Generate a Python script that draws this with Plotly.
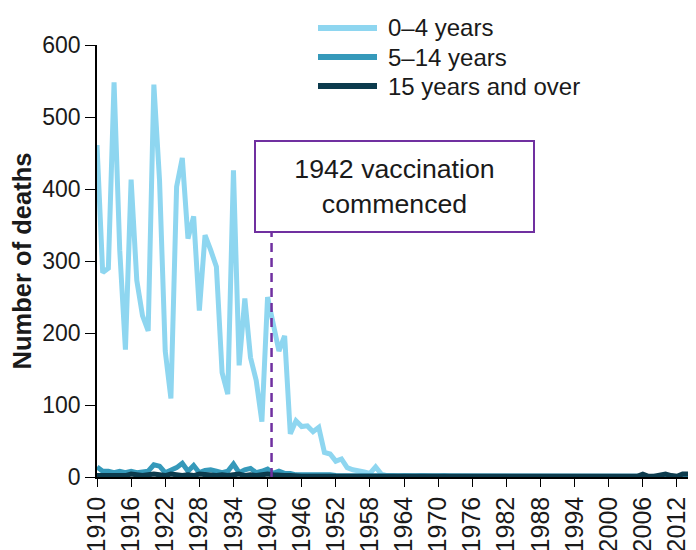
import plotly.graph_objects as go

years = list(range(1910, 2016))

age_0_4 = [461, 284, 290, 548, 315, 177, 413, 273, 224, 203,
           545, 412, 175, 109, 403, 443, 331, 362, 231, 336,
           315, 292, 145, 115, 426, 155, 248, 166, 134, 77,
           250, 213, 175, 196, 60, 78, 70, 71, 63, 69,
           34, 32, 22, 25, 13, 10, 9, 7, 5, 14,
           4, 2, 2, 1, 2, 1, 1, 2, 1, 1,
           1, 2, 1, 1, 1, 1, 1, 2, 1, 1,
           1, 1, 1, 1, 1, 2, 1, 1, 1, 1,
           2, 1, 1, 1, 1, 2, 1, 1, 1, 1,
           1, 1, 1, 1, 1, 1, 0, 1, 1, 0,
           1, 0, 0, 0, 0, 0]

age_5_14 = [14, 8, 8, 6, 8, 6, 8, 6, 7, 8,
            17, 15, 6, 10, 13, 19, 8, 16, 6, 9,
            10, 8, 6, 8, 18, 6, 10, 12, 6, 8,
            11, 5, 8, 5, 5, 3, 3, 4, 3, 4,
            3, 3, 2, 2, 2, 2, 2, 1, 2, 1,
            1, 1, 1, 1, 1, 1, 1, 1, 1, 1,
            1, 1, 1, 1, 1, 1, 1, 1, 1, 1,
            1, 1, 1, 1, 1, 1, 1, 1, 1, 1,
            1, 1, 1, 1, 1, 1, 1, 1, 1, 1,
            1, 1, 1, 1, 1, 1, 0, 0, 0, 0,
            0, 0, 0, 0, 0, 0]

age_15_over = [2, 2, 2, 3, 2, 2, 4, 3, 2, 3,
               4, 3, 2, 4, 3, 2, 3, 2, 4, 3,
               3, 2, 3, 2, 3, 4, 2, 3, 2, 3,
               4, 3, 2, 2, 2, 1, 1, 1, 1, 1,
               1, 1, 1, 1, 1, 1, 1, 1, 1, 1,
               1, 1, 1, 1, 1, 1, 1, 1, 1, 1,
               1, 1, 1, 1, 1, 1, 1, 1, 1, 1,
               1, 1, 1, 1, 1, 1, 1, 1, 1, 1,
               1, 1, 1, 1, 1, 1, 1, 1, 1, 1,
               1, 1, 1, 1, 1, 1, 4, 1, 1, 3,
               4, 2, 1, 4, 4, 4]

series_names = ["0\u20134 years", "5\u201314 years", "15 years and over"]
series_colors = ["#8ED6F0", "#3599BA", "#0C3B4D"]

tick_years = list(range(1910, 2016, 6))
vaccination_year = 1940.7
annotation_text = "1942 vaccination<br>commenced"

FONT = "Liberation Sans, Arial, sans-serif"
TXT = "#1a1a1a"

# page body has an 8px margin; figure sized so plot area lands where the reference has it
W, H = 688, 542
ML, MR, MT, MB = 89, 2, 37, 73
PW = W - ML - MR
PH = H - MT - MB


def px_to_paper(px, py):
    # px, py are window pixel coordinates
    return (px - 8 - ML) / PW, 1 - (py - 8 - MT) / PH


fig = go.Figure()
for name, vals, col in zip(series_names, [age_0_4, age_5_14, age_15_over], series_colors):
    fig.add_trace(go.Scatter(x=years, y=vals, mode="lines", name=name,
                             line=dict(color=col, width=5), showlegend=False))

# vaccination marker line
fig.add_shape(type="line", x0=vaccination_year, x1=vaccination_year, y0=0, y1=339,
              xref="x", yref="y", layer="above",
              line=dict(color="#7030A0", width=2.5, dash="9px,6px"))

# annotation box
fig.add_annotation(x=px_to_paper(394.5, 0)[0], y=403, xref="paper", yref="y",
                   text=annotation_text, showarrow=False,
                   width=277, height=89, align="center", valign="middle",
                   bordercolor="#7030A0", borderwidth=2, borderpad=0,
                   bgcolor="white",
                   font=dict(family=FONT, size=26.7, color=TXT))

# legend (drawn as line samples + text)
legend_rows_py = [28, 57, 86]
for name, col, py in zip(series_names, series_colors, legend_rows_py):
    x0, y0 = px_to_paper(318, py)
    x1, _ = px_to_paper(377, py)
    fig.add_shape(type="line", x0=x0, x1=x1, y0=y0, y1=y0, xref="paper", yref="paper",
                  line=dict(color=col, width=6))
    tx, _ = px_to_paper(386, py)
    fig.add_annotation(x=tx, y=y0, xref="paper", yref="paper", text=name,
                       showarrow=False, xanchor="left", yanchor="middle",
                       font=dict(family=FONT, size=24, color=TXT))

fig.update_layout(
    width=W, height=H,
    margin=dict(l=ML, r=MR, t=MT, b=MB),
    paper_bgcolor="white", plot_bgcolor="white",
    font=dict(family=FONT, color=TXT),
    showlegend=False,
    xaxis=dict(range=[1910, 2015], tickvals=tick_years, tickangle=-90,
               showgrid=False, zeroline=False, showline=True, linecolor="#000",
               linewidth=1.5, ticks="outside", ticklen=8, tickcolor="#000",
               tickfont=dict(size=25, family=FONT, color=TXT),
               automargin=False),
    yaxis=dict(range=[0, 600], tickvals=[0, 100, 200, 300, 400, 500, 600],
               showgrid=False, zeroline=False, showline=True, linecolor="#000",
               linewidth=1.5, ticks="outside", ticklen=10, tickcolor="#000",
               tickfont=dict(size=23, family=FONT, color=TXT),
               title=dict(text="<b>Number of deaths</b>", standoff=12,
                          font=dict(size=25.5, family=FONT, color=TXT)),
               automargin=False),
)

fig.write_html("out.html")
